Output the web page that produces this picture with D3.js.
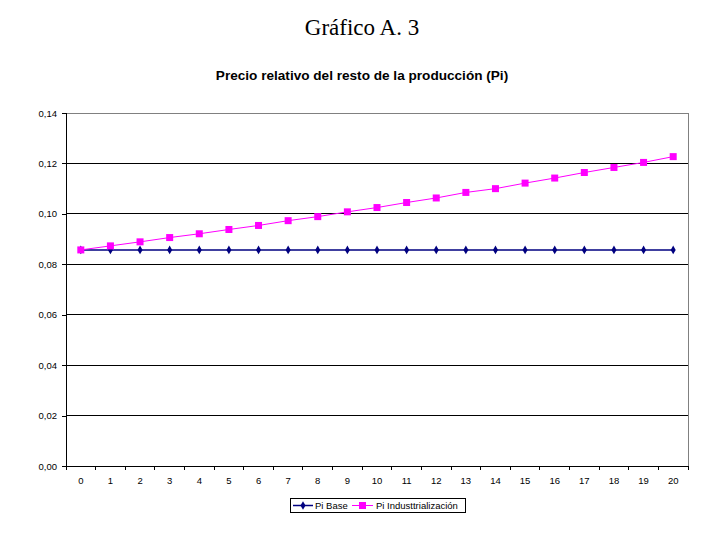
<!DOCTYPE html>
<html lang="es">
<head>
    <meta charset="UTF-8">
    <title>Gráfico A. 3</title>
    <script src="https://d3js.org/d3.v7.min.js"></script>
    <style>
        body { margin: 0; background: #fff; }
        text { font-family: "Liberation Sans", Arial, sans-serif; }
        .tick text { font-size: 9.5px; fill: #000; }
    </style>
</head>
<body>
<script>
    const periods = d3.range(0, 21).map(String);
    const piBase = [0.0857, 0.0857, 0.0857, 0.0857, 0.0857, 0.0857, 0.0857, 0.0857, 0.0857, 0.0857,
        0.0857, 0.0857, 0.0857, 0.0857, 0.0857, 0.0857, 0.0857, 0.0857, 0.0857, 0.0857, 0.0857];
    const piIndustrial = [0.0857, 0.0873, 0.0889, 0.0906, 0.0921, 0.0938, 0.0954, 0.0973, 0.0989, 0.1008,
        0.1025, 0.1045, 0.1063, 0.1085, 0.1100, 0.1122, 0.1142, 0.1164, 0.1184, 0.1204, 0.1227];
    const yTicks = [0, 0.02, 0.04, 0.06, 0.08, 0.10, 0.12, 0.14];
    const seriesNames = ["Pi Base", "Pi Industtrialización"];

    const width = 719, height = 560;
    const plotLeft = 66, plotRight = 688, plotTop = 113, plotBottom = 466;

    const svg = d3.select("body").append("svg")
        .attr("width", width)
        .attr("height", height);

    // Titles
    svg.append("text")
        .attr("x", 362).attr("y", 35)
        .attr("text-anchor", "middle")
        .style("font-family", "'Liberation Serif', 'Times New Roman', serif")
        .style("font-size", "23px")
        .text("Gráfico A. 3");

    svg.append("text")
        .attr("x", 362).attr("y", 80)
        .attr("text-anchor", "middle")
        .style("font-size", "13.6px")
        .style("font-weight", "bold")
        .text("Precio relativo del resto de la producción (Pi)");

    // Scales
    const x = d3.scaleBand().domain(periods).range([plotLeft, plotRight]);
    const y = d3.scaleLinear().domain([0, 0.14]).range([plotBottom, plotTop]);
    const fmt = d => d3.format(".2f")(d).replace(".", ",");

    // Gridlines
    svg.append("g")
        .selectAll("line")
        .data(yTicks.slice(1, -1))
        .join("line")
        .attr("x1", plotLeft).attr("x2", plotRight)
        .attr("y1", d => y(d)).attr("y2", d => y(d))
        .attr("stroke", "#000")
        .attr("shape-rendering", "crispEdges");

    // Plot border (top and right in gray)
    svg.append("path")
        .attr("d", `M${plotLeft},${plotTop}H${plotRight}V${plotBottom}`)
        .attr("fill", "none")
        .attr("stroke", "#808080")
        .attr("shape-rendering", "crispEdges");

    // Y axis
    const yAxis = svg.append("g")
        .attr("transform", `translate(${plotLeft},0)`)
        .call(d3.axisLeft(y).tickValues(yTicks).tickFormat(fmt).tickSize(4).tickPadding(5));
    yAxis.select(".domain").attr("stroke", "#000").attr("shape-rendering", "crispEdges");
    yAxis.selectAll(".tick line").attr("shape-rendering", "crispEdges");

    // X axis: ticks between categories
    const xAxis = svg.append("g")
        .attr("transform", `translate(0,${plotBottom})`)
        .call(d3.axisBottom(x).tickSize(0).tickPadding(11));
    xAxis.select(".domain").remove();
    xAxis.append("line")
        .attr("x1", plotLeft).attr("x2", plotRight)
        .attr("stroke", "#000")
        .attr("shape-rendering", "crispEdges");
    xAxis.selectAll(".sep")
        .data(periods.concat(["end"]))
        .join("line")
        .attr("class", "sep")
        .attr("x1", (d, i) => plotLeft + i * x.step())
        .attr("x2", (d, i) => plotLeft + i * x.step())
        .attr("y1", 0).attr("y2", 4)
        .attr("stroke", "#000")
        .attr("shape-rendering", "crispEdges");

    // Lines
    const line = d3.line()
        .x((d, i) => x(periods[i]) + x.bandwidth() / 2)
        .y(d => y(d));

    svg.append("path")
        .datum(piBase)
        .attr("fill", "none")
        .attr("stroke", "#000080")
        .attr("stroke-width", 1.5)
        .attr("d", line);

    svg.append("path")
        .datum(piIndustrial)
        .attr("fill", "none")
        .attr("stroke", "#ff00ff")
        .attr("stroke-width", 1)
        .attr("d", line);

    // Markers
    const diamond = d3.symbol().type(d3.symbolDiamond).size(22);
    svg.append("g")
        .selectAll("path")
        .data(piBase)
        .join("path")
        .attr("transform", (d, i) => `translate(${x(periods[i]) + x.bandwidth() / 2},${y(d)})`)
        .attr("d", diamond)
        .attr("fill", "#000080");

    svg.append("g")
        .selectAll("rect")
        .data(piIndustrial)
        .join("rect")
        .attr("x", (d, i) => x(periods[i]) + x.bandwidth() / 2 - 3.5)
        .attr("y", d => y(d) - 3.5)
        .attr("width", 7).attr("height", 7)
        .attr("fill", "#ff00ff");

    // Legend
    const legend = svg.append("g");
    legend.append("rect")
        .attr("x", 290.5).attr("y", 498.5)
        .attr("width", 175).attr("height", 14)
        .attr("fill", "#fff").attr("stroke", "#000");

    legend.append("line")
        .attr("x1", 293).attr("x2", 313).attr("y1", 505.5).attr("y2", 505.5)
        .attr("stroke", "#000080").attr("stroke-width", 1.5);
    legend.append("path")
        .attr("transform", "translate(303,505.5)")
        .attr("d", diamond)
        .attr("fill", "#000080");
    legend.append("text")
        .attr("x", 315).attr("y", 509)
        .style("font-size", "9.5px")
        .text(seriesNames[0]);

    legend.append("line")
        .attr("x1", 352).attr("x2", 373).attr("y1", 505.5).attr("y2", 505.5)
        .attr("stroke", "#ff00ff");
    legend.append("rect")
        .attr("x", 359).attr("y", 502)
        .attr("width", 7).attr("height", 7)
        .attr("fill", "#ff00ff");
    legend.append("text")
        .attr("x", 376).attr("y", 509)
        .style("font-size", "9.5px")
        .text(seriesNames[1]);
</script>
</body>
</html>
